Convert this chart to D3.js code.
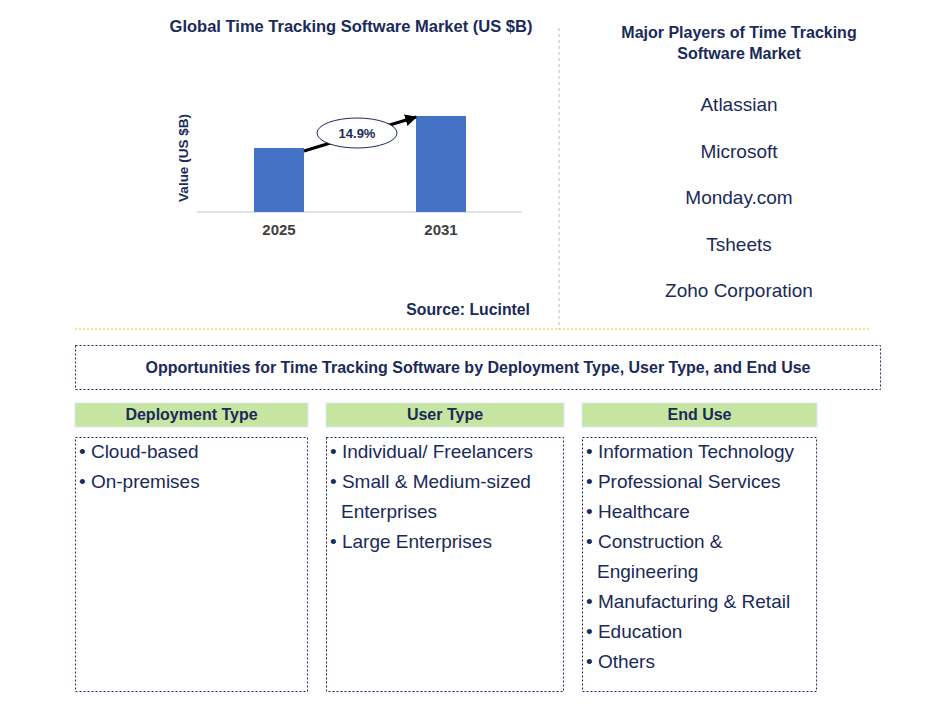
<!DOCTYPE html>
<html><head><meta charset="utf-8">
<script src="https://cdn.jsdelivr.net/npm/d3@7"></script>
<style>body{margin:0;background:#fff}</style>
</head><body><div id="chart"></div>
<script>
const width = 945, height = 712;
const years = ["2025", "2031"];
const values = [2.0, 3.0];
const cagr = "14.9%";
const players = ["Atlassian", "Microsoft", "Monday.com", "Tsheets", "Zoho Corporation"];
const columns = ["Deployment Type", "User Type", "End Use"];
const items = [
  [["Cloud-based"], ["On-premises"]],
  [["Individual/ Freelancers"], ["Small & Medium-sized", "Enterprises"], ["Large Enterprises"]],
  [["Information Technology"], ["Professional Services"], ["Healthcare"], ["Construction &", "Engineering"], ["Manufacturing & Retail"], ["Education"], ["Others"]]
];
const navy = "#1a2a5a";
const font = "Arial, 'Liberation Sans', sans-serif";

const svg = d3.select("#chart").append("svg")
  .attr("width", width).attr("height", height)
  .style("font-family", font);

svg.append("text").attr("x", 351).attr("y", 32).attr("text-anchor", "middle")
  .style("font-size", "16.5px").style("font-weight", "bold").attr("fill", navy)
  .text("Global Time Tracking Software Market (US $B)");

const x = d3.scalePoint().domain(years).range([279, 441]);
const bw = 50;
const y = d3.scaleLinear().domain([0, 3.0]).range([212, 116]);

svg.append("line").attr("x1", 197).attr("x2", 522).attr("y1", 212).attr("y2", 212)
  .attr("stroke", "#d9d9d9").attr("stroke-width", 1.5);

svg.selectAll("rect.bar").data(values).join("rect").attr("class", "bar")
  .attr("x", (d, i) => x(years[i]) - bw / 2).attr("width", bw)
  .attr("y", d => y(d)).attr("height", d => y(0) - y(d)).attr("fill", "#4472c4");

svg.selectAll("text.yr").data(years).join("text").attr("class", "yr")
  .attr("x", d => x(d)).attr("y", 235).attr("text-anchor", "middle")
  .style("font-size", "15px").style("font-weight", "bold").attr("fill", "#404040").text(d => d);

svg.append("text").attr("transform", "translate(188,158) rotate(-90)").attr("text-anchor", "middle")
  .style("font-size", "13.5px").style("font-weight", "bold").attr("fill", navy).text("Value (US $B)");

svg.append("defs").append("marker").attr("id", "ah").attr("viewBox", "0 0 10 10")
  .attr("refX", 9).attr("refY", 5).attr("markerWidth", 4).attr("markerHeight", 4).attr("orient", "auto")
  .append("path").attr("d", "M0,0L10,5L0,10z").attr("fill", "#000");

const x0 = x(years[0]) + bw / 2, x1 = x(years[1]) - bw / 2;
svg.append("line").attr("x1", x0).attr("y1", y(values[0]) + 3).attr("x2", x1).attr("y2", y(values[1]) + 1)
  .attr("stroke", "#000").attr("stroke-width", 3).attr("marker-end", "url(#ah)");
svg.append("ellipse").attr("cx", 357).attr("cy", 133).attr("rx", 40).attr("ry", 15)
  .attr("fill", "#fff").attr("stroke", navy).attr("stroke-width", 1);
svg.append("text").attr("x", 357).attr("y", 138).attr("text-anchor", "middle")
  .style("font-size", "13px").style("font-weight", "bold").attr("fill", navy).text(cagr);

svg.append("text").attr("x", 530).attr("y", 315).attr("text-anchor", "end")
  .style("font-size", "15.8px").style("font-weight", "bold").attr("fill", navy).text("Source: Lucintel");

svg.append("line").attr("x1", 559).attr("x2", 559).attr("y1", 28).attr("y2", 330)
  .attr("stroke", "#bbb").attr("stroke-dasharray", "3,3");
svg.append("line").attr("x1", 75).attr("x2", 870).attr("y1", 329).attr("y2", 329)
  .attr("stroke", "#f5c518").attr("stroke-dasharray", "2,2");

svg.append("text").attr("x", 739).attr("y", 38).attr("text-anchor", "middle")
  .style("font-size", "16px").style("font-weight", "bold").attr("fill", navy)
  .selectAll("tspan").data(["Major Players of Time Tracking", "Software Market"]).join("tspan")
  .attr("x", 739).attr("dy", (d, i) => i ? 21 : 0).text(d => d);

svg.selectAll("text.pl").data(players).join("text").attr("class", "pl")
  .attr("x", 739).attr("y", (d, i) => 111 + i * 46.5).attr("text-anchor", "middle")
  .style("font-size", "19px").attr("fill", navy).text(d => d);

svg.append("rect").attr("x", 75.5).attr("y", 345.5).attr("width", 805).attr("height", 44)
  .attr("fill", "none").attr("stroke", navy).attr("stroke-dasharray", "2,2");
svg.append("text").attr("x", 478).attr("y", 373).attr("text-anchor", "middle")
  .style("font-size", "16px").style("font-weight", "bold").attr("fill", navy)
  .text("Opportunities for Time Tracking Software by Deployment Type, User Type, and End Use");

const colX = [75, 326, 582], colW = [233, 238, 235];
columns.forEach((c, i) => {
  svg.append("rect").attr("x", colX[i]).attr("y", 403).attr("width", colW[i]).attr("height", 24)
    .attr("fill", "#c6e5a0").attr("stroke", "#dae8f5");
  svg.append("text").attr("x", colX[i] + colW[i] / 2).attr("y", 420).attr("text-anchor", "middle")
    .style("font-size", "16px").style("font-weight", "bold").attr("fill", navy).text(c);
  svg.append("rect").attr("x", colX[i] + 0.5).attr("y", 437.5).attr("width", colW[i] - 1).attr("height", 254)
    .attr("fill", "none").attr("stroke", navy).attr("stroke-dasharray", "2,2");
  let line = 0;
  items[i].forEach(it => {
    it.forEach((t, j) => {
      svg.append("text").attr("x", colX[i] + (j ? 15 : 4)).attr("y", 458 + line * 30)
        .style("font-size", "19px").attr("fill", navy).text(j ? t : "• " + t);
      line++;
    });
  });
});
</script></body></html>
